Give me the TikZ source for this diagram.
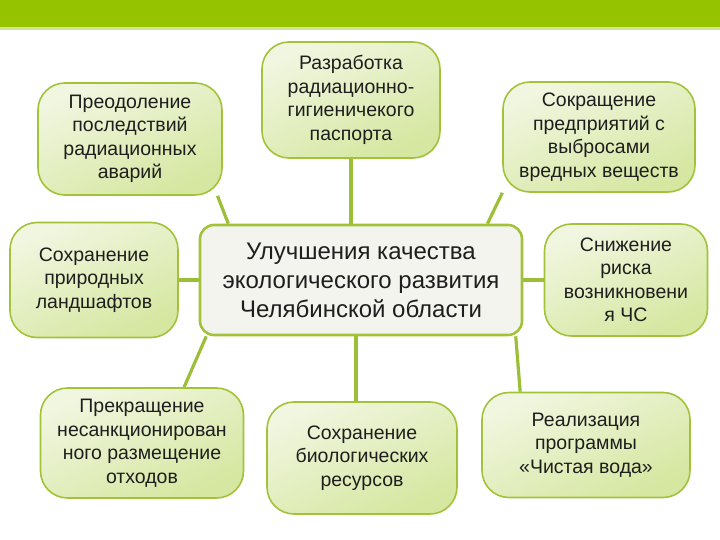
\documentclass[tikz,border=0pt]{standalone}
\usepackage{fontspec}
\setmainfont{Liberation Sans}
\usetikzlibrary{backgrounds}

\definecolor{barGreen}{HTML}{95C300}
\definecolor{barLine}{HTML}{D2E48E}
\definecolor{leafEdge}{HTML}{A2C23A}
\definecolor{leafHi}{HTML}{F1F6E0}
\definecolor{leafLo}{HTML}{D5E7A0}
\definecolor{linkGreen}{HTML}{9DBE38}
\definecolor{hubFill}{HTML}{F4F4EF}
\definecolor{txtDark}{HTML}{1E1E1E}

\begin{document}
\begin{tikzpicture}[x=1pt, y=-1pt,
  leaf/.style={rectangle, draw=leafEdge, line width=1.6pt, rounded corners=27pt,
    top color=leafHi, bottom color=leafLo, shading angle=25, align=center,
    inner sep=0pt, text=txtDark, font=\fontsize{19.5}{23.5}\selectfont},
  hub/.style={rectangle, draw=leafEdge, line width=2.6pt, rounded corners=14pt,
    fill=hubFill, align=center, inner sep=0pt, text=txtDark,
    font=\fontsize{24}{29}\selectfont},
  link/.style={draw=linkGreen, line width=3.2pt}
]
\useasboundingbox (0,0) rectangle (720,540);

% Top bar
\fill[barGreen] (0,0) rectangle (720,27);
\fill[barLine] (0,27) rectangle (720,30);

% Centre
\node[hub, minimum width=322pt, minimum height=110pt] (ctr) at (361,280)
  {Улучшения качества\\экологического развития\\Челябинской области};

% Upper row
\node[leaf, minimum width=184pt, minimum height=112pt] (tl) at (130,139)
  {Преодоление\\последствий\\радиационных\\аварий};
\node[leaf, minimum width=178pt, minimum height=116pt] (tm) at (351,100)
  {Разработка\\радиационно-\\гигиеничекого\\паспорта};
\node[leaf, minimum width=192pt, minimum height=110pt] (tr) at (599,137)
  {Сокращение\\предприятий с\\выбросами\\вредных веществ};

% Middle row
\node[leaf, minimum width=168pt, minimum height=115pt] (ml) at (94,280)
  {Сохранение\\природных\\ландшафтов};
\node[leaf, minimum width=163pt, minimum height=112pt] (mr) at (626,280)
  {Снижение\\риска\\возникновени\\я ЧС};

% Lower row
\node[leaf, minimum width=203pt, minimum height=110pt] (bl) at (142,443)
  {Прекращение\\несанкционирован\\ного размещение\\отходов};
\node[leaf, minimum width=190pt, minimum height=112pt] (bm) at (362,458)
  {Сохранение\\биологических\\ресурсов};
\node[leaf, minimum width=208pt, minimum height=105pt] (br) at (586,445)
  {Реализация\\программы\\«Чистая вода»};

% Links
\begin{pgfonlayer}{background}
  \draw[link] (tl.-33.5) -- (ctr.157.5);
  \draw[link] (tm.south) -- (tm.south |- ctr.north);
  \draw[link] (tr.210.2) -- (ctr.24.4);
  \draw[link] (ml.east) -- (ctr.west);
  \draw[link] (ctr.east) -- (mr.west);
  \draw[link] (bl.53.3) -- (ctr.200.6);
  \draw[link] ([xshift=-6pt]bm.north) -- ([xshift=-6pt]bm.north |- ctr.south);
  \draw[link] (br.141.8) -- (ctr.-20.9);
\end{pgfonlayer}

\end{tikzpicture}
\end{document}
